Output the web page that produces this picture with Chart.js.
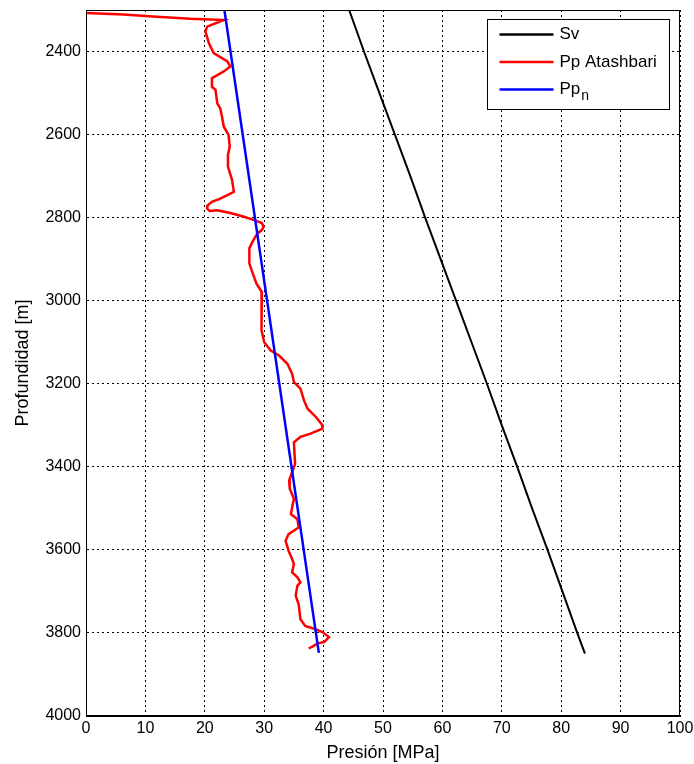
<!DOCTYPE html>
<html>
<head>
<meta charset="utf-8">
<script src="https://cdn.jsdelivr.net/npm/chart.js@4.4.0/dist/chart.umd.min.js"></script>
<style>
    html, body { margin: 0; padding: 0; background: #fff; }
    #wrap { width: 694px; height: 764px; }
</style>
</head>
<body>
<div id="wrap"><canvas id="grafico" width="694" height="764"></canvas></div>
<script>
// Sv - esfuerzo vertical
const svProf = [2300, 2400, 2500, 2600, 2700, 2800, 2900, 3000, 3100, 3200, 3300, 3400, 3500, 3600, 3700, 3800, 3850];
const svPresion = [44.3, 46.8, 49.4, 52.0, 54.6, 57.1, 59.7, 62.3, 64.9, 67.5, 70.0, 72.6, 75.1, 77.7, 80.2, 82.7, 84.0];

// Pp normal (hidrostatica)
const ppnProf = [2300, 3848];
const ppnPresion = [23.3, 39.2];

// Pp Atashbari
const ppProf = [2307, 2311, 2316, 2321, 2324, 2340, 2352, 2380, 2404, 2424, 2436, 2448, 2464, 2485, 2492,
    2525, 2537, 2557, 2581, 2601, 2629, 2649, 2677, 2710, 2738, 2746, 2754, 2762, 2770, 2778, 2784,
    2782, 2789, 2798, 2806, 2813, 2822, 2830, 2839, 2859, 2874, 2910, 2931, 2959, 2979, 3023, 3071,
    3100, 3120, 3132, 3152, 3176, 3196, 3212, 3240, 3260, 3280, 3300, 3308, 3320, 3328, 3341, 3393,
    3413, 3433, 3453, 3477, 3498, 3514, 3526, 3546, 3562, 3578, 3602, 3622, 3634, 3654, 3666, 3678,
    3686, 3710, 3731, 3767, 3783, 3790, 3798, 3810, 3822, 3825, 3833, 3837];
const ppPresion = [0, 6.3, 11.9, 17.6, 23.2, 20.4, 20.1, 20.7, 21.5, 23.8, 24.3, 23.2, 21.2, 21.2, 21.8,
    22.1, 22.6, 22.9, 23.2, 24.0, 24.2, 23.9, 23.9, 24.6, 24.9, 23.8, 22.6, 21.2, 20.5, 20.4, 20.8,
    22.1, 24.3, 26.6, 28.3, 29.6, 29.9, 29.6, 28.8, 28.0, 27.5, 27.5, 28.0, 28.7, 29.6, 29.6, 29.5,
    30.0, 31.1, 32.5, 33.9, 34.7, 35.0, 36.1, 36.7, 37.3, 38.7, 39.8, 39.8, 37.8, 36.1, 35.0, 35.2,
    34.7, 34.2, 34.3, 35.0, 34.7, 34.5, 35.6, 35.8, 34.1, 33.6, 34.1, 34.7, 35.0, 34.7, 35.6, 36.1,
    35.6, 35.3, 35.8, 36.1, 36.9, 38.4, 39.8, 40.9, 40.1, 39.0, 38.1, 37.5];

const profTicks = [2400, 2600, 2800, 3000, 3200, 3400, 3600, 3800, 4000];

const FUENTE = "'Liberation Sans', Arial, Helvetica, sans-serif";

function puntos(xs, ys) {
    return xs.map((x, i) => ({ x: x, y: ys[i] }));
}

// caja negra alrededor del area de trazado
const marco = {
    id: 'marco',
    afterDatasetsDraw(chart) {
        const { ctx, chartArea: a } = chart;
        ctx.save();
        ctx.strokeStyle = '#000';
        ctx.lineWidth = 1;
        ctx.strokeRect(Math.round(a.left) + 0.5, Math.round(a.top) + 0.5,
            Math.round(a.right - a.left) - 1, Math.round(a.bottom - a.top) - 1);
        ctx.restore();
    }
};

// leyenda estilo MATLAB (con subindice en Pp_n)
const leyenda = {
    id: 'leyenda',
    afterDraw(chart) {
        const { ctx, chartArea: a } = chart;
        const w = 182, h = 90;
        const x0 = Math.round(a.right - 11 - w) + 0.5;
        const y0 = Math.round(a.top + 9) + 0.5;
        ctx.save();
        ctx.fillStyle = '#fff';
        ctx.fillRect(x0, y0, w, h);
        ctx.strokeStyle = '#000';
        ctx.lineWidth = 1;
        ctx.strokeRect(x0, y0, w, h);

        const items = [
            { ds: chart.data.datasets[0], sub: null },
            { ds: chart.data.datasets[1], sub: null },
            { ds: chart.data.datasets[2], sub: 'n' }
        ];
        ctx.textBaseline = 'middle';
        items.forEach((it, i) => {
            const yy = y0 + 15 + i * 27.5;
            ctx.strokeStyle = it.ds.borderColor;
            ctx.lineWidth = 2.5;
            ctx.beginPath();
            ctx.moveTo(x0 + 12, yy);
            ctx.lineTo(x0 + 66, yy);
            ctx.stroke();
            ctx.fillStyle = '#000';
            ctx.font = '17px ' + FUENTE;
            ctx.fillText(it.ds.label, x0 + 72, yy);
            if (it.sub) {
                const tw = ctx.measureText(it.ds.label).width;
                ctx.font = '14px ' + FUENTE;
                ctx.fillText(it.sub, x0 + 72 + tw + 1, yy + 7);
            }
        });
        ctx.restore();
    }
};

const ctx = document.getElementById('grafico').getContext('2d');
new Chart(ctx, {
    type: 'scatter',
    data: {
        datasets: [
            {
                label: 'Sv',
                data: puntos(svPresion, svProf),
                showLine: true,
                borderColor: '#000000',
                borderWidth: 2,
                pointRadius: 0,
                order: 2
            },
            {
                label: 'Pp Atashbari',
                data: puntos(ppPresion, ppProf),
                showLine: true,
                borderColor: '#ff0000',
                borderWidth: 2.5,
                pointRadius: 0,
                order: 1
            },
            {
                label: 'Pp',
                data: puntos(ppnPresion, ppnProf),
                showLine: true,
                borderColor: '#0000ff',
                borderWidth: 2.5,
                pointRadius: 0,
                order: 0
            }
        ]
    },
    options: {
        responsive: false,
        animation: false,
        devicePixelRatio: 1,
        layout: { padding: { left: 0, right: 14, top: 10, bottom: 0 } },
        plugins: {
            legend: { display: false },
            tooltip: { enabled: false }
        },
        scales: {
            x: {
                type: 'linear',
                position: 'bottom',
                min: 0,
                max: 100,
                afterFit: s => {
                    s.height = 48;
                    s.paddingLeft = 0;
                    s.paddingRight = 0;
                },
                ticks: {
                    stepSize: 10,
                    padding: 3,
                    color: '#000',
                    font: { family: FUENTE, size: 16 },
                    callback: v => String(v)
                },
                grid: { color: '#000', lineWidth: 1, drawTicks: false },
                border: { display: true, color: '#000', dash: [2, 3] },
                title: {
                    display: true,
                    text: 'Presión [MPa]',
                    color: '#000',
                    font: { family: FUENTE, size: 18 },
                    padding: { top: 0, bottom: 0 }
                }
            },
            y: {
                type: 'linear',
                reverse: true,
                min: 2300,
                max: 4000,
                afterFit: s => {
                    s.width = 86;
                    s.paddingTop = 0;
                    s.paddingBottom = 0;
                },
                afterBuildTicks: s => { s.ticks = profTicks.map(v => ({ value: v })); },
                ticks: {
                    padding: 5,
                    color: '#000',
                    font: { family: FUENTE, size: 16 },
                    callback: v => String(v)
                },
                grid: { color: '#000', lineWidth: 1, drawTicks: false },
                border: { display: true, color: '#000', dash: [2, 3] },
                title: {
                    display: true,
                    text: 'Profundidad [m]',
                    color: '#000',
                    font: { family: FUENTE, size: 18 },
                    padding: { top: 12, bottom: 0 }
                }
            }
        }
    },
    plugins: [marco, leyenda]
});
</script>
</body>
</html>
